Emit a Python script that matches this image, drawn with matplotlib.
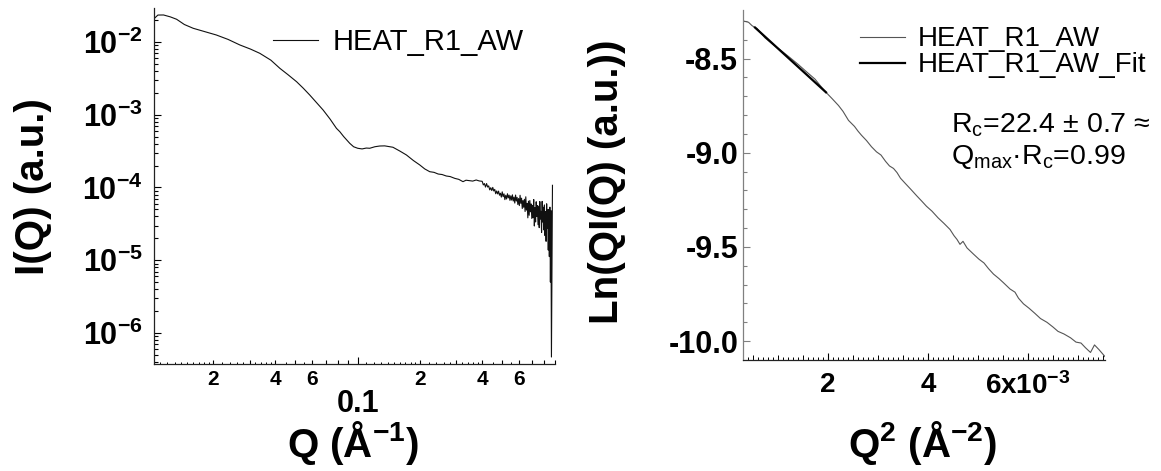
import numpy as np
import matplotlib
matplotlib.use("Agg")
import matplotlib.pyplot as plt
from matplotlib.ticker import FixedLocator, NullLocator, FuncFormatter, NullFormatter

plt.rcParams.update({
    "font.family": "Liberation Sans",
    "font.weight": "bold",
    "mathtext.fontset": "custom",
    "mathtext.rm": "Liberation Sans",
    "mathtext.it": "Liberation Sans:italic",
    "mathtext.bf": "Liberation Sans:bold",
    "axes.unicode_minus": False,
})

# ---------------- data: left panel, I(Q) vs Q ----------------
q_smooth = [0.0104, 0.0108, 0.0115, 0.0124, 0.0133, 0.0145, 0.0160, 0.0183, 0.0207,
            0.0236, 0.0269, 0.0303, 0.0336, 0.0380, 0.0420, 0.0460, 0.0506, 0.0545,
            0.0586, 0.0630, 0.0680, 0.0735, 0.0789, 0.0819, 0.0855, 0.0915, 0.0955,
            0.1000, 0.1050, 0.1100, 0.1143, 0.1210, 0.1277, 0.1350, 0.1480, 0.1600,
            0.1720, 0.1860, 0.1995, 0.2110, 0.2230, 0.2340, 0.2450, 0.2560, 0.2680,
            0.2800, 0.2950, 0.3080, 0.3230, 0.3340, 0.3450, 0.3600, 0.3740, 0.3870]
log_i_smooth = [-1.674, -1.630, -1.629, -1.655, -1.688, -1.760, -1.812, -1.860, -1.904,
                -1.965, -2.041, -2.098, -2.156, -2.250, -2.362, -2.450, -2.546, -2.635,
                -2.729, -2.830, -2.935, -3.060, -3.187, -3.233, -3.300, -3.393, -3.440,
                -3.461, -3.470, -3.458, -3.461, -3.440, -3.430, -3.428, -3.447, -3.500,
                -3.553, -3.630, -3.690, -3.745, -3.783, -3.792, -3.815, -3.822, -3.842,
                -3.850, -3.875, -3.888, -3.920, -3.900, -3.905, -3.912, -3.897, -3.910]

q_noisy = [0.400, 0.405, 0.410, 0.415, 0.420, 0.425, 0.430, 0.435, 0.440, 0.445,
           0.450, 0.455, 0.460, 0.465, 0.470, 0.475, 0.480, 0.485, 0.490, 0.495,
           0.500, 0.505, 0.510, 0.515, 0.520, 0.525, 0.530, 0.535, 0.540, 0.545,
           0.550, 0.555, 0.560, 0.565, 0.570, 0.575, 0.580, 0.585, 0.590, 0.595,
           0.600, 0.605, 0.610, 0.615, 0.620, 0.625, 0.630, 0.635, 0.640, 0.645,
           0.650, 0.655, 0.660, 0.665, 0.670, 0.675, 0.680, 0.685, 0.690, 0.695,
           0.700, 0.705, 0.710, 0.715, 0.720, 0.725, 0.730, 0.735, 0.740, 0.745,
           0.750, 0.755, 0.760, 0.765, 0.770, 0.775, 0.780, 0.785, 0.790, 0.795,
           0.800, 0.805, 0.810, 0.815, 0.820, 0.825, 0.830, 0.835, 0.840, 0.845,
           0.850, 0.855, 0.860, 0.865, 0.870, 0.875]
log_i_noisy = [-3.915, -3.965, -3.946, -3.994, -3.946, -3.994, -3.978, -4.033, -4.003, -4.042,
               -3.999, -4.048, -4.026, -4.086, -4.048, -4.088, -4.050, -4.106, -4.079, -4.132,
               -4.060, -4.126, -4.088, -4.167, -4.107, -4.158, -4.086, -4.143, -4.105, -4.177,
               -4.115, -4.173, -4.101, -4.186, -4.133, -4.214, -4.104, -4.186, -4.136, -4.234,
               -4.152, -4.249, -4.107, -4.218, -4.147, -4.289, -4.178, -4.272, -4.162, -4.330,
               -4.128, -4.310, -4.219, -4.417, -4.188, -4.382, -4.179, -4.334, -4.226, -4.426,
               -4.246, -4.416, -4.165, -4.529, -4.278, -4.474, -4.196, -4.398, -4.249, -4.511,
               -4.257, -4.552, -4.193, -4.434, -4.327, -4.619, -4.191, -4.475, -4.271, -4.584,
               -4.240, -4.661, -4.332, -4.740, -4.224, -4.558, -4.308, -4.860, -4.301, -4.950,
               -4.270, -5.300, -4.318, -6.330, -5.100, -3.970]

# ---------------- data: right panel, Ln(Q I) vs Q^2 ----------------
q2_e3 = [0.30, 0.41, 0.48, 0.54, 0.58, 0.74, 0.90, 1.07, 1.24, 1.40, 1.57, 1.74, 1.85,
         1.96, 2.08, 2.21, 2.30, 2.41, 2.53, 2.60, 2.67, 2.77, 2.87, 2.97, 3.06, 3.15,
         3.23, 3.31, 3.38, 3.45, 3.54, 3.66, 3.78, 3.88, 3.97, 4.08, 4.20, 4.32, 4.44,
         4.52, 4.58, 4.64, 4.70, 4.78, 4.91, 5.02, 5.12, 5.21, 5.31, 5.42, 5.51, 5.64,
         5.74, 5.81, 5.91, 6.02, 6.14, 6.25, 6.38, 6.50, 6.60, 6.72, 6.85, 6.96, 7.06,
         7.15, 7.25, 7.33, 7.42, 7.54]
ln_qi = [-8.300, -8.307, -8.325, -8.335, -8.340, -8.390, -8.425, -8.459, -8.495, -8.530,
         -8.570, -8.609, -8.645, -8.679, -8.712, -8.749, -8.780, -8.828, -8.860, -8.885,
         -8.907, -8.935, -8.968, -8.995, -9.012, -9.045, -9.070, -9.083, -9.105, -9.135,
         -9.161, -9.195, -9.230, -9.258, -9.284, -9.310, -9.345, -9.375, -9.407, -9.440,
         -9.460, -9.486, -9.470, -9.505, -9.538, -9.565, -9.585, -9.615, -9.644, -9.668,
         -9.690, -9.723, -9.740, -9.772, -9.802, -9.825, -9.853, -9.880, -9.900, -9.925,
         -9.948, -9.962, -9.982, -10.005, -10.010, -10.035, -10.060, -10.020, -10.045, -10.082]
fit_q2_e3 = [0.54, 1.96]
fit_ln_qi = [-8.335, -8.679]

legend_left = "HEAT_R1_AW"
legend_right = ["HEAT_R1_AW", "HEAT_R1_AW_Fit"]
rc_text = r"R$_{\mathregular{c}}$=22.4 ± 0.7 ≈"
qmax_text = r"Q$_{\mathregular{max}}$·R$_{\mathregular{c}}$=0.99"

left_minor_labels = {0.02: "2", 0.04: "4", 0.06: "6", 0.2: "2", 0.4: "4", 0.6: "6"}
right_x_labels = ["2", "4", r"$\mathbf{6x10^{-3}}$"]
right_y_labels = ["-8.5", "-9.0", "-9.5", "-10.0"]

# ---------------- figure ----------------
W, H = 1161, 471
fig = plt.figure(figsize=(W / 100, H / 100), dpi=100)

# ---- left panel ----
ax1 = fig.add_axes([154 / W, 1 - 364 / H, 401 / W, 356 / H])
q_all = q_smooth + q_noisy
i_all = [10 ** v for v in (log_i_smooth + log_i_noisy)]
ax1.plot(q_all, i_all, color="#111111", lw=0.8, label=legend_left)
ax1.set_xscale("log")
ax1.set_yscale("log")
ax1.set_xlim(0.01034, 0.895)
ax1.set_ylim(3.75e-7, 0.0293)
for s in ["top", "right"]:
    ax1.spines[s].set_visible(False)
for s in ["left", "bottom"]:
    ax1.spines[s].set_linewidth(0.9)
    ax1.spines[s].set_color("#222222")

y_major = [1e-2, 1e-3, 1e-4, 1e-5, 1e-6]
y_minor = [k * 10.0 ** e for e in range(-7, -1) for k in range(2, 10)]
ax1.yaxis.set_major_locator(FixedLocator(y_major))
ax1.yaxis.set_major_formatter(FuncFormatter(lambda v, p: r"$\mathbf{10^{%d}}$" % round(np.log10(v))))
ax1.yaxis.set_minor_locator(FixedLocator(y_minor))
ax1.yaxis.set_minor_formatter(NullFormatter())
ax1.tick_params(axis="y", which="major", direction="in", length=5, width=0.8, pad=8, labelsize=22)
ax1.tick_params(axis="y", which="minor", direction="in", length=3, width=0.8)

x_minor = [k * d for d in (0.01, 0.1) for k in range(2, 10)]
ax1.set_xticks([0.1], ["0.1"])
ax1.set_xticks(x_minor, [left_minor_labels.get(round(v, 3), "") for v in x_minor], minor=True)
ax1.tick_params(axis="x", which="major", direction="in", length=5, width=0.8, pad=18, labelsize=22)
ax1.tick_params(axis="x", which="minor", direction="in", length=3, width=0.8, pad=4, labelsize=15)

sub1 = []
for d in (0.01, 0.1):
    for k in [1.1, 1.2, 1.3, 1.4, 1.5, 1.6, 1.7, 1.8, 1.9, 2.2, 2.4, 2.6, 2.8,
              3.2, 3.4, 3.6, 3.8, 4.5, 5.5]:
        if 0.01034 < k * d < 0.895:
            sub1.append(k * d)
sec1 = ax1.secondary_xaxis("bottom")
sec1.set_xticks(sub1)
sec1.xaxis.set_minor_locator(NullLocator())
sec1.tick_params(direction="in", length=1.8, width=0.7, labelbottom=False)
sec1.spines["bottom"].set_visible(False)

ax1.legend(loc="center left", bbox_to_anchor=(273 / W, 1 - 42 / H), bbox_transform=fig.transFigure,
           frameon=False, borderpad=0, borderaxespad=0, handlelength=1.54, handletextpad=0.5,
           prop={"size": 21, "weight": "normal"})

# ---- right panel ----
ax2 = fig.add_axes([743 / W, 1 - 360 / H, 362 / W, 350 / H])
ax2.plot([v * 1e-3 for v in q2_e3], ln_qi, color="#555555", lw=0.8, label=legend_right[0])
ax2.plot([v * 1e-3 for v in fit_q2_e3], fit_ln_qi, color="black", lw=1.6, label=legend_right[1])
ax2.set_xlim(0.3e-3, 7.54e-3)
ax2.set_ylim(-10.1, -8.242)
for s in ["top", "right"]:
    ax2.spines[s].set_visible(False)
ax2.spines["left"].set_color("#808080")
ax2.spines["left"].set_linewidth(0.9)
ax2.spines["bottom"].set_color("#222222")
ax2.spines["bottom"].set_linewidth(0.9)

ax2.set_xticks([2e-3, 4e-3, 6e-3], right_x_labels)
x2_minor = [k * 0.5e-3 for k in range(1, 16) if k % 4 != 0]
ax2.set_xticks(x2_minor, minor=True)
ax2.tick_params(axis="x", which="major", direction="in", length=5, width=0.8, pad=9, labelsize=20)
ax2.tick_params(axis="x", which="minor", direction="in", length=3.3, width=0.7)
sub2 = [k * 0.1e-3 for k in range(3, 76) if k % 5 != 0]
sec2 = ax2.secondary_xaxis("bottom")
sec2.set_xticks(sub2)
sec2.xaxis.set_minor_locator(NullLocator())
sec2.tick_params(direction="in", length=2.0, width=0.7, labelbottom=False)
sec2.spines["bottom"].set_visible(False)

ax2.set_yticks([-8.5, -9.0, -9.5, -10.0], right_y_labels)
y2_minor = [-8.3, -8.4, -8.6, -8.7, -8.8, -8.9, -9.1, -9.2, -9.3, -9.4, -9.6, -9.7, -9.8, -9.9]
ax2.set_yticks(y2_minor, minor=True)
ax2.tick_params(axis="y", which="major", direction="in", length=5, width=0.8, pad=3.5, labelsize=22,
                color="#808080")
ax2.tick_params(axis="y", which="minor", direction="in", length=3, width=0.8, color="#808080")

ax2.legend(loc="center left", bbox_to_anchor=(860 / W, 1 - 52.5 / H), bbox_transform=fig.transFigure,
           frameon=False, borderpad=0, borderaxespad=0, handlelength=1.62, handletextpad=0.47,
           labelspacing=0.0, prop={"size": 20, "weight": "normal"})

fig.text(951 / W, 1 - 125 / H, rc_text, ha="left", va="center", fontsize=20.5, fontweight="normal")
fig.text(951 / W, 1 - 157 / H, qmax_text, ha="left", va="center", fontsize=20.5, fontweight="normal")

# ---- axis titles ----
fig.text(33 / W, 1 - 187 / H, "I(Q) (a.u.)", rotation=90, ha="center", va="center", fontsize=29)
fig.text(607 / W, 1 - 182 / H, "Ln(QI(Q) (a.u.))", rotation=90, ha="center", va="center", fontsize=29)
fig.text(353 / W, 1 - 457 / H, r"Q (Å$^{\mathbf{-1}}$)", ha="center", va="baseline", fontsize=29)
fig.text(923 / W, 1 - 457 / H, r"Q$^{\mathbf{2}}$ (Å$^{\mathbf{-2}}$)", ha="center", va="baseline", fontsize=29)

fig.savefig("out.png", dpi=100)
